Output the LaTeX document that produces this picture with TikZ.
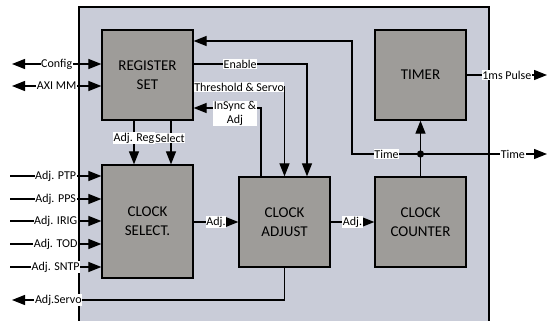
\documentclass[tikz,border=0pt]{standalone}
\usepackage{fontspec}
\setmainfont{Carlito}
\usetikzlibrary{arrows.meta}
\definecolor{panelc}{HTML}{C9CCD8}
\definecolor{blockc}{HTML}{9E9C99}
\begin{document}
\begin{tikzpicture}[x=1pt,y=-1pt,
  block/.style={draw,line width=1.3pt,fill=blockc,minimum width=91pt,minimum height=90pt,
    align=center,font=\fontsize{15}{19}\selectfont,inner sep=0pt},
  lbl/.style={fill=white,inner sep=0.6pt,font=\fontsize{12}{14}\selectfont},
  arr/.style={line width=1.2pt,-{Triangle[length=13pt,width=10pt]}},
  darr/.style={line width=1.2pt,{Triangle[length=13pt,width=10pt]}-{Triangle[length=13pt,width=10pt]}},
  wire/.style={line width=1.2pt}]
\useasboundingbox (0,0) rectangle (547,321);
% panel
\fill[panelc] (79,7) rectangle (489,321);
\draw[line width=1.3pt] (79,321) -- (79,7) -- (489,7) -- (489,321);
% blocks
\node[block] (reg) at (147.5,75) {REGISTER\\SET};
\node[block] (timer) at (420.5,75) {TIMER};
\node[block,minimum height=113pt] (sel) at (147.5,221.5) {CLOCK\\SELECT.};
\node[block] (adj) at (284.5,222) {CLOCK\\ADJUST};
\node[block] (cnt) at (420.5,222) {CLOCK\\COUNTER};
% helper coordinates
\coordinate (cfg) at (12,64);
\coordinate (axi) at (12,86);
\coordinate (ptp) at (10,176);
\coordinate (pps) at (10,199);
\coordinate (irig) at (10,221);
\coordinate (tod) at (10,244);
\coordinate (sntp) at (10,267);
\coordinate (enC) at (307,64);
\coordinate (thC) at (284.5,87);
\coordinate (inC) at (261,108);
\coordinate (fbA) at (352,41);
\coordinate (fbB) at (352,154);
\coordinate (j) at (420.5,154);
\coordinate (timeOut) at (547,154);
\coordinate (pulseOut) at (547,75);
\coordinate (svC) at (284.5,300);
\coordinate (svOut) at (12,300);
\coordinate (regX) at (134,0);
\coordinate (selX) at (171,0);
% left side
\draw[darr] (cfg) -- node[lbl]{Config} (cfg -| reg.west);
\draw[darr] (axi) -- node[lbl]{AXI MM} (axi -| reg.west);
\draw[arr] (ptp) -- node[lbl]{Adj. PTP} (ptp -| sel.west);
\draw[arr] (pps) -- node[lbl]{Adj. PPS} (pps -| sel.west);
\draw[arr] (irig) -- node[lbl]{Adj. IRIG} (irig -| sel.west);
\draw[arr] (tod) -- node[lbl]{Adj. TOD} (tod -| sel.west);
\draw[arr] (sntp) -- node[lbl]{Adj. SNTP} (sntp -| sel.west);
% register set to select
\draw[arr] (reg.south -| regX) -- node[lbl,pos=0.4]{Adj. Reg} (sel.north -| regX);
\draw[arr] (reg.south -| selX) -- node[lbl,pos=0.4,xshift=-1pt]{Select} (sel.north -| selX);
% register set to adjust
\draw[arr] (enC -| reg.east) -- node[lbl,pos=0.41]{Enable} (enC) -- (enC |- adj.north);
\draw[arr] (thC -| reg.east) -- node[lbl]{Threshold \& Servo} (thC) -- (adj.north);
\draw[arr] (inC |- adj.north) -- (inC) -- (inC -| reg.east);
\node[lbl,align=center,anchor=north] (insl) at (235,100.5) {InSync \&\\Adj};
% chain
\draw[arr] (sel.east |- adj.west) -- node[lbl]{Adj.} (adj.west);
\draw[arr] (adj.east) -- node[lbl]{Adj.} (cnt.west);
% counter / timer
\draw[wire] (cnt.north) -- (j);
\fill (j) circle (3.6pt);
\draw[arr] (j) -- (timer.south);
\draw[arr] (j) -- (fbB) -- (fbA) -- (fbA -| reg.east);
\node[lbl] (timel) at (386.5,154) {Time};
\draw[arr] (j) -- node[lbl,pos=0.73]{Time} (timeOut);
\draw[arr] (timer.east) -- node[lbl,pos=0.5]{1ms Pulse} (pulseOut);
% servo
\draw[arr] (adj.south) -- (svC) -- node[lbl,pos=0.83]{Adj.Servo} (svOut);
\end{tikzpicture}
\end{document}
